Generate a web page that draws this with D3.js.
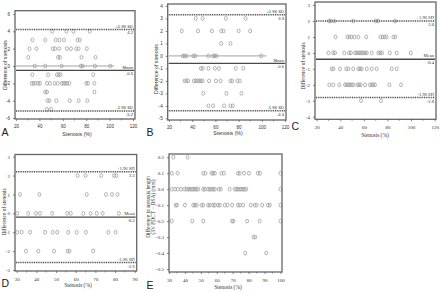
<!DOCTYPE html>
<html><head><meta charset="utf-8">
<script src="https://cdn.jsdelivr.net/npm/d3@7"></script>
<style>body{margin:0;background:#fff}svg{display:block}</style>
</head><body><svg id="c" width="440" height="293"></svg>
<script>
// ---------- DATA ----------
const limitNames = ["+1.96 SD", "Mean", "-1.96 SD"];

// Panel A
const aLevels = [4, 3, 2, 1, 0, -1, -2, -3, -4, -5];
const aStenosis = [
  [51, 63, 69, 83],
  [34, 45, 54, 57, 61, 72.5, 74.5],
  [31.5, 37.5, 51.5, 53.5, 57, 63.5, 67, 71.5, 73.5, 80.5],
  [30.5, 56, 57.5, 76, 88],
  [36, 45, 59, 75.5, 77, 87.5, 100.5],
  [34, 47.5, 55, 56.5, 58, 86],
  [33.5, 35, 36.5, 39, 40.5, 46.5, 49, 53, 55.5, 59, 60.5, 62, 63.5, 65.5, 80, 81.5, 87],
  [45, 46.5, 87],
  [47, 48.5, 54.5, 66, 73.5, 81],
  [46.5, 50]
];
const aLimits = [4.2, -0.5, -5.2];

// Panel B
const bLevels = [3, 2, 1, 0, -1, -2, -3, -4];
const bStenosis = [
  [43, 49, 69, 86],
  [31, 45, 57, 65, 67, 80, 90],
  [65, 73],
  [32, 33.5, 35, 41, 42.5, 54, 58, 59.5, 61, 99.5],
  [47.5, 49, 54, 59.5, 63, 77.5, 84],
  [33.5, 35, 36.5, 41.5, 43, 44.5, 46, 47.5, 49, 54.5, 60.5, 64.5, 73, 74.5, 79, 81],
  [49.5, 69.5, 82.5],
  [54, 58, 67.5, 73, 75]
];
const bLimits = [3.3, -0.6, -4.4];

// Panel C
const cLevels = [2, 1, 0, -1, -2, -3];
const cStenosis = [
  [30.5, 32, 35, 51, 70, 72, 86.5],
  [36, 46, 47.7, 49.4, 52, 55.3, 62, 74, 76, 77.6, 79.3, 85, 86.7],
  [30, 34, 35.5, 43.4, 47.4, 49, 52.5, 54, 55.3, 56.7, 58, 59.5, 61, 62.4, 66.6, 72.3, 73.7, 75.4, 82, 87.8, 99.7],
  [32.7, 34.1, 39.8, 45, 46.8, 51, 55.3, 56.7, 58.1, 62.4, 66.6, 70.8, 83.6, 87.8],
  [30.7, 34, 39.2, 44, 45.4, 46.8, 48.2, 49.7, 51.1, 54.5, 55.9, 57.3, 61, 65.2, 66.6, 68, 69.4, 81.6, 91.5],
  [57.6, 74.5]
];
const cLimits = [2.0, -0.4, -2.8];

// Panel D
const dLevels = [2, 1, 0, -1, -2];
const dStenosis = [
  [61, 65, 73, 79.5, 80.7],
  [31.7, 41.5, 65.6, 75.4, 78.4, 81.3],
  [30.3, 35.9, 39.8, 41.8, 48.1, 55.7, 57.5, 63.9, 67.6, 70.7, 73.7, 82],
  [30.3, 32.5, 36.8, 44.4, 48.3, 50.6, 56.2, 60.5, 65.2, 76.6, 80.3],
  [34.7, 41, 49, 55.9, 56.8, 68.9]
];
const dLimits = [2.2, -0.2, -2.6];

// Panel E
const eLevels = [0.2, 0.1, 0.0, -0.1, -0.2, -0.3, -0.4];
const eStenosis = [
  [32.7, 41.7],
  [31.7, 35.4, 51.5, 52.9, 56.7, 57.7, 58.8, 62.9, 64.4, 73.3, 74.4, 77.1, 80.2, 85.8, 87.1, 100],
  [31.7, 33.8, 35.4, 37.5, 39.6, 41, 42.1, 43.1, 44.2, 45.2, 46.3, 47.3, 48.3, 51.5, 52.5, 54.6, 55.6, 56.7, 57.7, 58.8, 61.3, 62.5, 68.1, 71.3, 72.3, 73.3, 74.4, 75.4, 76.5, 77.5, 78.5, 100],
  [34.2, 35, 40, 45.2, 46.3, 47.3, 50.4, 51.5, 54.6, 55.6, 57.7, 58.8, 60.8, 61.9, 65, 66.7, 69.6, 73.3, 74.4, 76.5, 81.3, 83.8, 85, 88.5, 92.1, 93.3, 100],
  [31.7, 44.6, 51.5, 69.6, 70.4, 79, 86.9, 100],
  [83.1, 84.2],
  [77.9, 91]
];

// Tick labels
const xTicksABC = [20, 40, 60, 80, 100, 120];
const xTicksD = [30, 40, 50, 60, 70, 80, 90];
const xTicksE = [30, 40, 50, 60, 70, 80, 90, 100];
const yTicksA = [6, 4, 2, 0, -2, -4, -6];
const yTicksB = [4, 3, 2, 1, 0, -1, -2, -3, -4, -5];
const yTicksC = [3, 2, 1, 0, -1, -2, -3, -4];
const yTicksD = [3, 2, 1, 0, -1, -2, -3];
const yTicksE = [0.2, 0.1, 0.0, -0.1, -0.2, -0.3, -0.4, -0.5];

// ---------- DRAWING ----------
const svg = d3.select("#c");
const SANS = "Liberation Sans, Arial, sans-serif";
const SERIF = "Liberation Serif, Times New Roman, serif";

function panel(p) {
  const g = svg.append("g");
  const x = d3.scaleLinear().domain(p.xd).range(p.xr);
  const y = d3.scaleLinear().domain(p.yd).range(p.yr);
  const b = p.box;
  const font = p.serif ? SERIF : SANS;

  if (p.zeroTo) {
    g.append("line").attr("x1", x(p.xd[0])).attr("x2", x(p.zeroTo))
      .attr("y1", y(0)).attr("y2", y(0))
      .attr("stroke", "#8a8a8a").attr("stroke-width", 0.8);
  }

  p.levels.forEach((lv, i) => {
    g.selectAll(null).data(p.st[i]).enter().append("ellipse")
      .attr("cx", d => x(d)).attr("cy", y(lv))
      .attr("rx", 1.5).attr("ry", 1.9)
      .attr("fill", "none").attr("stroke", "#999").attr("stroke-width", 0.75);
  });

  if (p.limits) {
    p.limits.forEach((v, i) => {
      const isMean = i === 1;
      g.append("line").attr("x1", b[0] + 1).attr("x2", b[1] - 1)
        .attr("y1", y(v)).attr("y2", y(v))
        .attr("stroke", "#4a4a4a")
        .attr("stroke-width", isMean ? 1.3 : 1.5)
        .attr("stroke-dasharray", isMean ? null : "1,0.8");
      g.append("text").attr("x", b[1] - 2).attr("y", y(v) - 1.8)
        .attr("text-anchor", "end").attr("font-family", font)
        .attr("font-size", p.lf).attr("fill", "#333").text(limitNames[i]);
      g.append("text").attr("x", b[1] - 2).attr("y", y(v) + p.lf + 0.6)
        .attr("text-anchor", "end").attr("font-family", font)
        .attr("font-size", p.lf).attr("fill", "#333").text(v.toFixed(1));
    });
  }

  g.append("rect").attr("x", b[0]).attr("y", b[2])
    .attr("width", b[1] - b[0]).attr("height", b[3] - b[2])
    .attr("fill", "none").attr("stroke", "#666").attr("stroke-width", 1.3);

  const xa = d3.axisBottom(x).tickValues(p.xt).tickSize(2).tickFormat(d => d);
  const ya = d3.axisLeft(y).tickValues(p.yt).tickSize(2).tickFormat(p.yfmt || (d => d));
  const gx = g.append("g").attr("transform", `translate(0,${b[3]})`).call(xa);
  const gy = g.append("g").attr("transform", `translate(${b[0]},0)`).call(ya);
  [gx, gy].forEach(a => {
    a.select(".domain").remove();
    a.selectAll("line").attr("stroke", "#555").attr("stroke-width", 0.7);
    a.selectAll("text").attr("font-family", font).attr("font-size", p.tf).attr("fill", "#333");
  });
  gx.selectAll("text").attr("dy", "0.9em");
  const mx = [];
  for (let i = 0; i < p.xt.length - 1; i++) mx.push((p.xt[i] + p.xt[i + 1]) / 2);
  g.selectAll(null).data(mx).enter().append("line")
    .attr("x1", d => x(d)).attr("x2", d => x(d))
    .attr("y1", b[3]).attr("y2", b[3] + 1.5)
    .attr("stroke", "#555").attr("stroke-width", 0.6);

  g.append("text").attr("x", p.xtPos[0]).attr("y", p.xtPos[1])
    .attr("text-anchor", "middle").attr("font-family", font)
    .attr("font-size", p.af).attr("fill", "#333").text("Stenosis (%)");
  const yt = g.append("text").attr("transform", `translate(${p.ytPos[0]},${p.ytPos[1]}) rotate(-90)`)
    .attr("text-anchor", "middle").attr("font-family", font)
    .attr("font-size", p.af).attr("fill", "#333");
  p.ytitle.forEach((t, i) => {
    yt.append("tspan").attr("x", 0).attr("dy", i === 0 ? 0 : p.af * 0.95).text(t);
  });

  svg.append("text").attr("x", p.letter[1]).attr("y", p.letter[2])
    .attr("font-family", SANS).attr("font-size", 10.5).attr("fill", "#222")
    .text(p.letter[0]);
}

panel({
  xd: [20, 120], xr: [16, 133], yd: [-6, 6], yr: [118, 14], box: [15, 135, 10.7, 119],
  levels: aLevels, st: aStenosis, limits: aLimits, zeroTo: 104,
  xt: xTicksABC, yt: yTicksA, tf: 4.6, lf: 4.2, af: 5.2,
  xtPos: [77, 135.5], ytPos: [6.5, 65], ytitle: ["Difference of stenosis"],
  letter: ["A", 1.5, 135.5]
});
panel({
  xd: [20, 120], xr: [169, 285], yd: [-5, 4], yr: [118.3, 6], box: [167.7, 286, 4, 120],
  levels: bLevels, st: bStenosis, limits: bLimits, zeroTo: 104,
  xt: xTicksABC, yt: yTicksB, tf: 4.6, lf: 4.2, af: 5.2,
  xtPos: [228, 135], ytPos: [158, 69], ytitle: ["Difference of stenosis"],
  letter: ["B", 146.5, 136]
});
panel({
  xd: [20, 120], xr: [316.7, 434.7], yd: [-4, 3], yr: [116.7, 5], box: [315, 436, 2, 119.3],
  levels: cLevels, st: cStenosis, limits: cLimits, serif: true,
  xt: xTicksABC, yt: yTicksC, tf: 5, lf: 4.6, af: 5.4,
  xtPos: [375, 137], ytPos: [304.5, 66], ytitle: ["Difference of stenosis"],
  letter: ["C", 291.5, 130]
});
panel({
  xd: [30, 90], xr: [16.7, 134.7], yd: [-3, 3], yr: [270, 156.7], box: [15, 136.7, 154.5, 271],
  levels: dLevels, st: dStenosis, limits: dLimits, serif: true,
  xt: xTicksD, yt: yTicksD, tf: 5, lf: 4.6, af: 5.4,
  xtPos: [78, 287], ytPos: [5.5, 212], ytitle: ["Difference of stenosis"],
  letter: ["D", 1.5, 287]
});
panel({
  xd: [30, 100], xr: [169, 280.5], yd: [-0.5, 0.2], yr: [269, 157.3], box: [169, 282, 154, 272],
  levels: eLevels, st: eStenosis, serif: true,
  xt: xTicksE, yt: yTicksE, tf: 5, lf: 4.6, af: 5.4, yfmt: d3.format(".1f"),
  xtPos: [228, 289], ytPos: [149.5, 207], ytitle: ["Difference in stenosis length", "(3V FDCT \u2212 DSA) (mm)"],
  letter: ["E", 146.5, 288.5]
});
</script></body></html>
